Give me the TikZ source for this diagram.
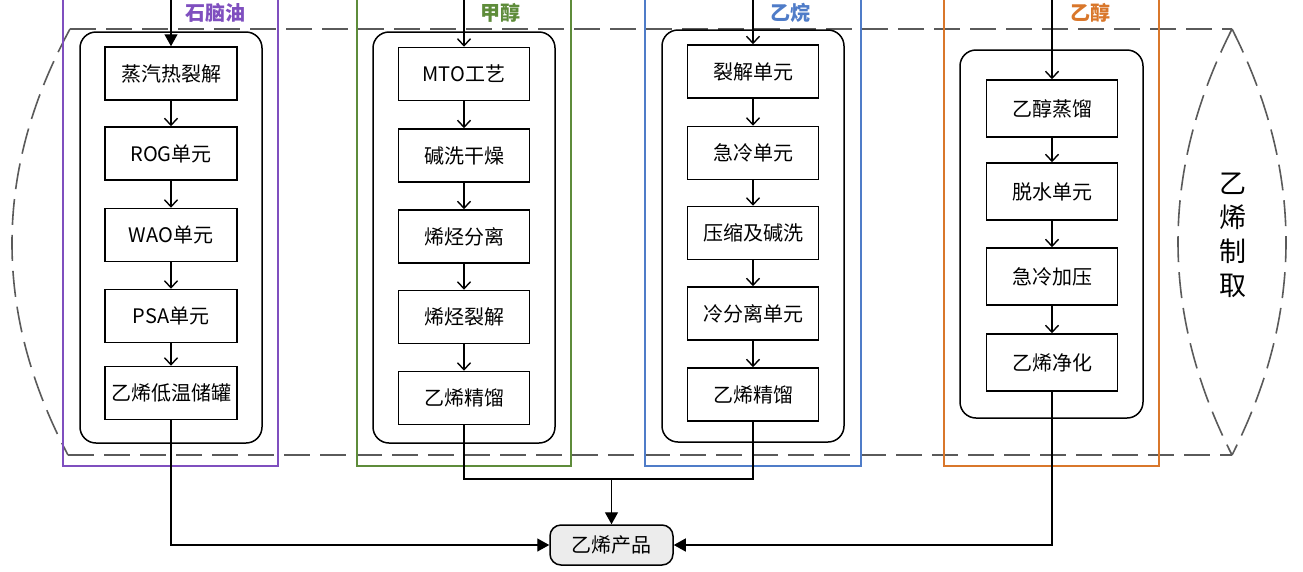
\documentclass[tikz,border=0pt]{standalone}
\usepackage{fontspec}
\setmainfont{Noto Sans CJK SC}
\newfontfamily\cjk{Noto Sans CJK SC}
\usetikzlibrary{arrows.meta}
\definecolor{cpurple}{HTML}{7F4FBF}
\definecolor{cgreen}{HTML}{5E8C3A}
\definecolor{cblue}{HTML}{4F7CC8}
\definecolor{corange}{HTML}{D9772B}
\definecolor{dashgray}{HTML}{5A5A5A}
\tikzset{
  proc/.style={draw=black, line width=1.5pt, minimum width=131pt, minimum height=53pt, inner sep=0pt, font=\cjk\fontsize{20}{22}\selectfont},
  groupbox/.style={draw=black, line width=1.5pt, rounded corners=16pt},
  frame/.style={line width=2pt},
  flow/.style={line width=1.4pt, -{Straight Barb[length=7pt,width=13pt,line width=1.4pt]}},
  feed/.style={line width=1.4pt, -{Triangle[length=12pt,width=13pt]}},
  outline/.style={draw=dashgray, line width=1.6pt, dash pattern=on 26pt off 10pt},
  lab/.style={font=\cjk\bfseries\fontsize{20}{22}\selectfont, inner sep=0pt},
  prod/.style={draw=black, line width=1.5pt, rounded corners=11pt, fill=gray!15, minimum width=123pt, minimum height=40pt, inner sep=0pt, font=\cjk\fontsize{20}{22}\selectfont},
}
\begin{document}
\begin{tikzpicture}[x=1pt,y=-1pt]
\useasboundingbox (0,0) rectangle (1303,571);
% dashed outline
\draw[outline] (70,29) -- (1232,29);
\draw[outline] (68,455) -- (1232,455);
\draw[outline] (70,29) .. controls (-7,171) and (-7,313) .. (68,455);
\draw[outline] (1232,29) .. controls (1160,171) and (1160,313) .. (1232,455);
\draw[outline] (1232,29) .. controls (1304,171) and (1304,313) .. (1232,455);
\node[font=\cjk\fontsize{27}{34}\selectfont, align=center, inner sep=0pt] (title) at (1233,235) {乙\\烯\\制\\取};
% coloured frames
\draw[frame, cpurple] (63,-2) -- (63,466) -- (278,466) -- (278,-2);
\draw[frame, cgreen] (357,-2) -- (357,466) -- (571,466) -- (571,-2);
\draw[frame, cblue] (645,-2) -- (645,466) -- (861,466) -- (861,-2);
\draw[frame, corange] (944,-2) -- (944,466) -- (1159,466) -- (1159,-2);
\node[lab, text=cpurple] (l1) at (215,13) {石脑油};
\node[lab, text=cgreen] (l2) at (500,13) {甲醇};
\node[lab, text=cblue] (l3) at (790,13) {乙烷};
\node[lab, text=corange] (l4) at (1090,13) {乙醇};
% inner rounded groups
\draw[groupbox] (80,32) rectangle (262,443);
\draw[groupbox] (373,32) rectangle (555,443);
\draw[groupbox] (662,30) rectangle (844,442);
\draw[groupbox] (960,50) rectangle (1143,418);
% column 1
\node[proc, minimum width=132pt] (a1) at (171,73.5) {蒸汽热裂解};
\node[proc, minimum width=132pt] (a2) at (171,153.5) {ROG单元};
\node[proc, minimum width=132pt] (a3) at (171,235) {WAO单元};
\node[proc, minimum width=132pt] (a4) at (171,316) {PSA单元};
\node[proc, minimum width=132pt] (a5) at (171,393) {乙烯低温储罐};
% column 2
\node[proc] (b1) at (464,74) {MTO工艺};
\node[proc] (b2) at (464,155.5) {碱洗干燥};
\node[proc] (b3) at (464,236.5) {烯烃分离};
\node[proc] (b4) at (464,317) {烯烃裂解};
\node[proc] (b5) at (464,398) {乙烯精馏};
% column 3
\node[proc] (c1) at (753,71.5) {裂解单元};
\node[proc] (c2) at (753,153) {急冷单元};
\node[proc] (c3) at (753,233) {压缩及碱洗};
\node[proc] (c4) at (753,313.5) {冷分离单元};
\node[proc] (c5) at (753,394.5) {乙烯精馏};
% column 4
\node[proc, minimum height=57pt] (d1) at (1052,108.5) {乙醇蒸馏};
\node[proc, minimum height=57pt] (d2) at (1052,191.5) {脱水单元};
\node[proc, minimum height=57pt] (d3) at (1052,276.5) {急冷加压};
\node[proc, minimum height=57pt] (d4) at (1052,362.5) {乙烯净化};
% product
\node[prod] (p) at (611.5,545) {乙烯产品};
% feed coordinates
\coordinate (ta) at (171,-2);
\coordinate (tb) at (464,-2);
\coordinate (tc) at (753,-2);
\coordinate (td) at (1052,-2);
\draw[feed] (ta) -- (a1.north);
\draw[flow] (tb) -- (b1.north);
\draw[flow] (tc) -- (c1.north);
\draw[flow] (td) -- (d1.north);
% internal flows
\foreach \s/\t in {a1/a2,a2/a3,a3/a4,a4/a5,b1/b2,b2/b3,b3/b4,b4/b5,c1/c2,c2/c3,c3/c4,c4/c5,d1/d2,d2/d3,d3/d4}
  \draw[flow] (\s.south) -- (\t.north);
% to product
\coordinate (j) at (611.5,479);
\draw[line width=1.4pt] (b5.south) |- (j) -| (c5.south);
\draw[feed] (j) -- (p.north);
\draw[feed] (a5.south) |- (p.west);
\draw[feed] (d4.south) |- (p.east);
\end{tikzpicture}
\end{document}
